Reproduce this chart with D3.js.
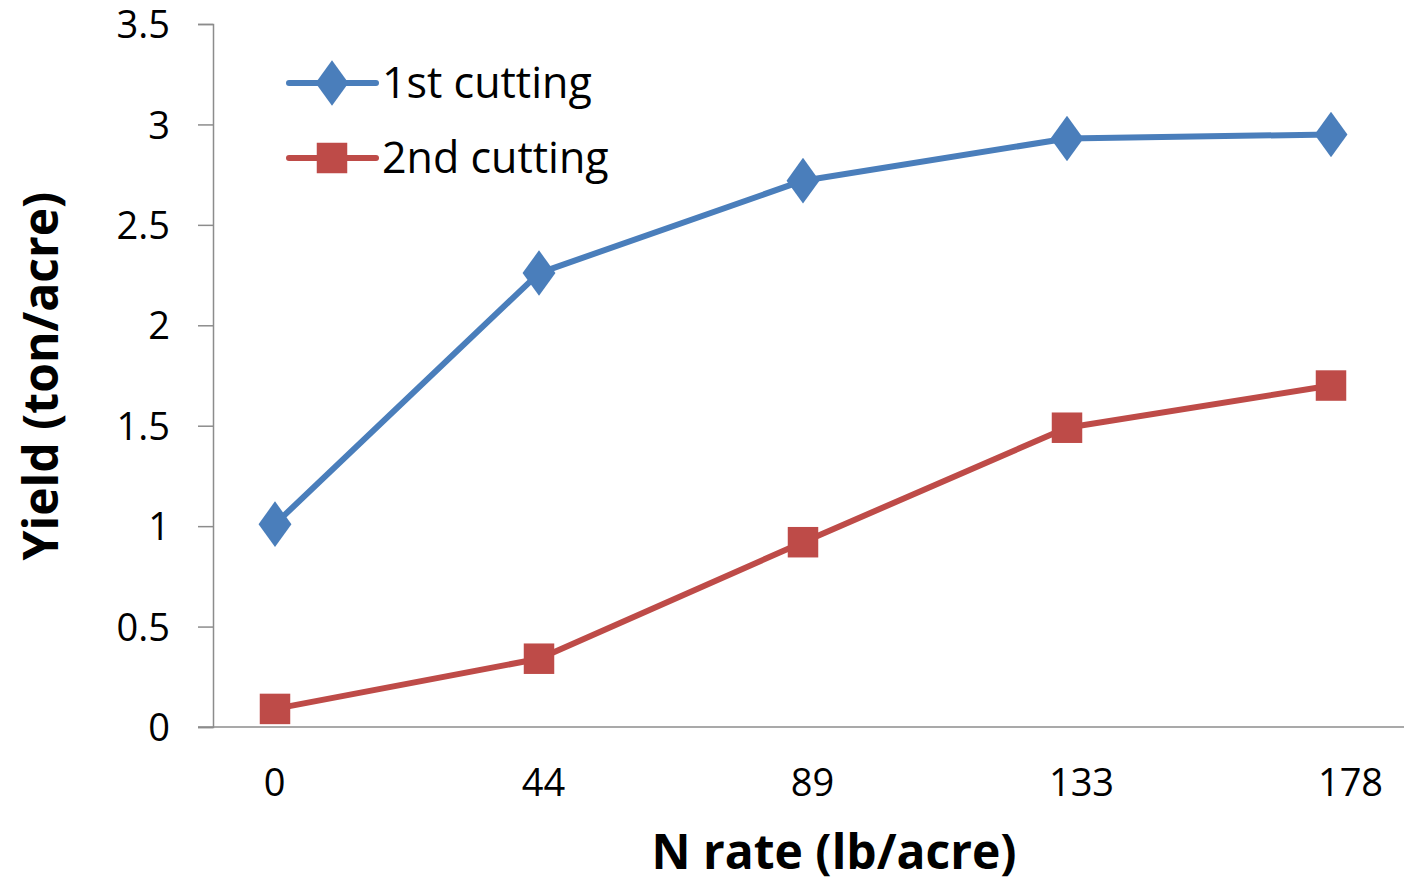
<!DOCTYPE html>
<html><head><meta charset="utf-8">
<script src="https://cdn.jsdelivr.net/npm/d3@7"></script>
<style>body{margin:0;background:#fff}svg{display:block}</style>
</head><body>
<script>
const categories = ["0","44","89","133","178"];
const series1 = [1.01, 2.26, 2.72, 2.93, 2.95];
const series2 = [0.09, 0.34, 0.92, 1.49, 1.70];
const seriesNames = ["1st cutting","2nd cutting"];
const yTicks = [0,0.5,1,1.5,2,2.5,3,3.5];
const colors = ["#4a7ebb","#be4b48"];

const W=1404,H=883;
const svg=d3.select("body").append("svg").attr("width",W).attr("height",H);
const font="'Open Sans', sans-serif";

const y=d3.scaleLinear().domain([0,3.5]).range([727,24]);
const xPts=d3.scalePoint().domain(categories).range([275,1331]);
const xLab=d3.scalePoint().domain(categories).range([274,1350]);

// y axis
const yAxis=svg.append("g").attr("transform","translate(213,0)")
  .call(d3.axisLeft(y).tickValues(yTicks).tickSize(15).tickPadding(28).tickFormat(d=>d3.format("")(d)));
yAxis.select(".domain").attr("stroke","#8c8c8c").attr("stroke-width",1.5);
yAxis.selectAll(".tick line").attr("stroke","#8c8c8c").attr("stroke-width",1.5);
yAxis.selectAll("text").attr("font-family",font).attr("font-size",38).attr("fill","#000").attr("dy","0.36em");

// x axis line
svg.append("line").attr("x1",198).attr("x2",1404).attr("y1",y(0)).attr("y2",y(0))
  .attr("stroke","#8c8c8c").attr("stroke-width",1.5);
const xAxis=svg.append("g").attr("transform",`translate(0,${y(0)})`)
  .call(d3.axisBottom(xLab).tickSize(0).tickPadding(42));
xAxis.select(".domain").remove();
xAxis.selectAll("text").attr("font-family",font).attr("font-size",38).attr("fill","#000");

// titles
svg.append("text").attr("x",834).attr("y",869).attr("text-anchor","middle")
  .attr("font-family",font).attr("font-weight","bold").attr("font-size",48).text("N rate (lb/acre)");
svg.append("text").attr("transform","translate(58,376) rotate(-90)").attr("text-anchor","middle")
  .attr("font-family",font).attr("font-weight","bold").attr("font-size",48).text("Yield (ton/acre)");

const line=d3.line().x((d,i)=>xPts(categories[i])).y(d=>y(d));
const all=[series1,series2];
const symbols=[d3.symbol().type(d3.symbolDiamond).size(600), d3.symbol().type(d3.symbolSquare).size(930)];

all.forEach((s,k)=>{
  svg.append("path").datum(s).attr("d",line).attr("fill","none").attr("stroke",colors[k])
    .attr("stroke-width",6).attr("stroke-linejoin","round");
  svg.selectAll(null).data(s).enter().append("path")
    .attr("d",symbols[k]).attr("fill",colors[k])
    .attr("transform",(d,i)=>`translate(${xPts(categories[i])},${y(d)})`+(k===0?" scale(1.25,1)":""));
});

// legend
seriesNames.forEach((n,k)=>{
  const ly=[83,158][k];
  const g=svg.append("g");
  g.append("line").attr("x1",289).attr("x2",376).attr("y1",ly).attr("y2",ly)
    .attr("stroke",colors[k]).attr("stroke-width",6).attr("stroke-linecap","round");
  g.append("path").attr("d",symbols[k]).attr("fill",colors[k])
    .attr("transform",`translate(332,${ly})`+(k===0?" scale(1.25,1)":""));
  g.append("text").attr("x",382).attr("y",ly).attr("dy","0.36em")
    .attr("font-family",font).attr("font-size",43).text(n);
});
</script>
</body></html>
